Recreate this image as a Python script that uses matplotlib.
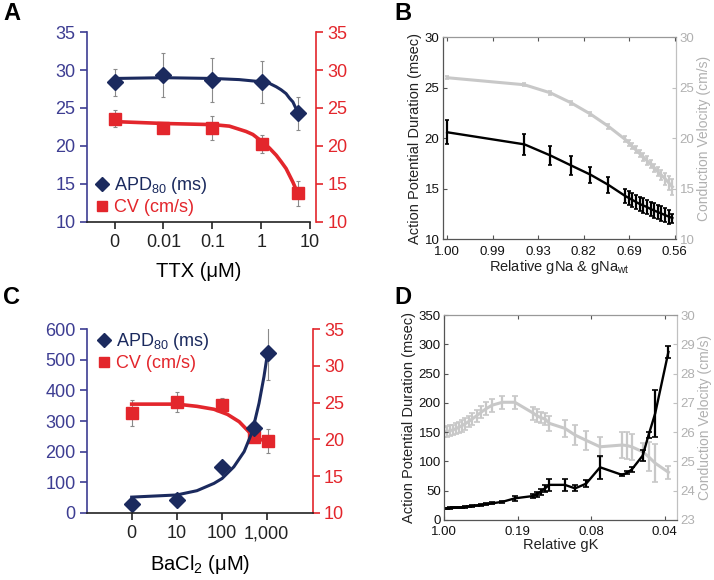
import matplotlib
matplotlib.use('Agg')
import matplotlib.pyplot as plt
from matplotlib.lines import Line2D

plt.rcParams['font.family'] = ['Liberation Sans', 'DejaVu Sans']
plt.rcParams['mathtext.fontset'] = 'custom'
plt.rcParams['mathtext.rm'] = 'Liberation Sans'
plt.rcParams['mathtext.it'] = 'Liberation Sans:italic'

NAVY = '#1b2a5e'
AXBLUE = '#3d3d92'
RED = '#e3262c'
ERR = '#8a8a8a'
GREY = '#c8c8c8'
RGREY = '#b0b0b0'

# ---------------- Panel A data (TTX) ----------------
a_ticks = ['0', '0.01', '0.1', '1', '10']
a_x = [0, 1, 2, 3.02, 3.75]
a_apd = [28.4, 29.4, 28.7, 28.4, 24.3]
a_apd_err = [1.8, 2.9, 2.85, 2.75, 2.2]
a_cv = [23.6, 22.3, 22.4, 20.2, 13.7]
a_cv_err = [1.1, 0.3, 1.6, 1.2, 1.65]
a_apd_fit_x = [0, 1.02, 2.02, 2.55, 3.03, 3.17, 3.31, 3.41, 3.51, 3.58, 3.65, 3.75]
a_apd_fit = [28.9, 29.0, 28.9, 28.75, 28.45, 28.25, 27.8, 27.4, 26.9, 26.3, 25.8, 24.4]
a_cv_fit_x = [0, 1.02, 2.02, 2.35, 2.69, 2.83, 3.03, 3.17, 3.31, 3.41, 3.51, 3.58, 3.65, 3.75]
a_cv_fit = [23.2, 22.95, 22.8, 22.6, 21.9, 21.5, 20.5, 19.7, 18.75, 17.9, 17.0, 16.1, 15.2, 13.7]

# ---------------- Panel C data (BaCl2) ----------------
c_ticks = ['0', '10', '100', '1,000']
c_x = [0, 1, 2, 2.72, 3.02]
c_apd = [28, 41, 151, 278, 522]
c_apd_err = [4, 4, 4, 4, 87]
c_cv = [23.6, 25.1, 24.7, 20.3, 19.8]
c_cv_err = [1.8, 1.35, 0.9, 0.3, 1.6]
c_apd_fit_x = [0, 1.0, 1.45, 1.83, 2.01, 2.27, 2.50, 2.68, 2.83, 2.94, 3.02]
c_apd_fit = [51, 58, 72, 96, 112, 150, 200, 265, 358, 445, 522]
c_cv_fit_x = [0, 1.0, 1.45, 1.83, 2.13, 2.39, 2.61, 2.80, 2.91]
c_cv_fit = [24.8, 24.8, 24.5, 24.1, 23.4, 22.4, 21.0, 20.1, 19.9]

# ---------------- Panel B data (gNa) ----------------
b_ticks = ['1.00', '0.99', '0.93', '0.82', '0.69', '0.56']
b_x = [0, 1.70, 2.27, 2.73, 3.15, 3.54, 3.91, 3.99, 4.07, 4.15, 4.23, 4.31,
       4.39, 4.47, 4.55, 4.63, 4.71, 4.79, 4.87, 4.95]
b_apd = [20.6, 19.4, 18.3, 17.3, 16.4, 15.4, 14.3, 14.1, 13.9, 13.7, 13.5, 13.35,
         13.2, 13.0, 12.85, 12.7, 12.55, 12.4, 12.25, 12.1]
b_apd_err = [1.2, 1.05, 0.95, 0.9, 0.8, 0.8, 0.7, 0.7, 0.7, 0.7, 0.7, 0.7,
             0.7, 0.7, 0.7, 0.7, 0.7, 0.7, 0.7, 0.45]
b_cv = [26.0, 25.3, 24.5, 23.5, 22.4, 21.2, 19.9, 19.55, 19.2, 18.85, 18.5, 18.15,
        17.8, 17.45, 17.1, 16.7, 16.35, 16.0, 15.6, 15.2]
b_cv_err = [0.12, 0.15, 0.2, 0.2, 0.2, 0.25, 0.3, 0.3, 0.3, 0.35, 0.35, 0.35,
            0.4, 0.4, 0.4, 0.45, 0.5, 0.6, 0.7, 0.8]

# ---------------- Panel D data (gK) ----------------
d_ticks = ['1.00', '0.19', '0.08', '0.04']
d_x = [0.00, 0.04, 0.08, 0.12, 0.16, 0.20, 0.24, 0.28, 0.33, 0.38, 0.44, 0.50,
       0.57, 0.65, 0.79, 0.96, 1.21, 1.26, 1.31, 1.37, 1.43, 1.64, 1.78, 1.93,
       2.12, 2.42, 2.49, 2.55, 2.70, 2.78, 2.87, 3.05]
d_apd = [20, 20.2, 20.4, 20.7, 21, 21.4, 21.8, 22.3, 23, 23.8, 24.7, 25.8,
         27, 28.5, 31, 37, 41, 44, 48, 54, 60, 60, 54, 62,
         90, 77, 81, 86, 110, 145, 182, 287]
d_apd_err = [1, 1, 1, 1, 1, 1, 1, 1, 1, 1, 1.5, 1.5,
             1.5, 2, 2, 4, 4, 4, 5, 6, 10, 10, 5, 6,
             20, 2, 3, 4, 10, 5, 40, 10]
d_cv = [26.0, 26.02, 26.05, 26.08, 26.12, 26.17, 26.22, 26.28, 26.36, 26.45, 26.56, 26.68,
        26.8, 26.92, 27.02, 27.02, 26.65, 26.56, 26.5, 26.45, 26.3, 26.13, 25.9, 25.72,
        25.5, 25.56, 25.54, 25.5, 25.33, 25.16, 24.94, 24.63]
d_cv_err = [0.18, 0.18, 0.18, 0.18, 0.19, 0.19, 0.2, 0.2, 0.2, 0.2, 0.21, 0.21,
            0.22, 0.22, 0.22, 0.22, 0.22, 0.22, 0.2, 0.22, 0.25, 0.3, 0.35, 0.33,
            0.35, 0.45, 0.45, 0.45, 0.3, 0.5, 0.65, 0.22]

W, H = 714, 580
fig = plt.figure(figsize=(W / 100, H / 100), dpi=100)


def box(l, t, r, b):
    return [l / W, 1 - b / H, (r - l) / W, (b - t) / H]


def style_ac(ax, ax2, ticks, xlim, ylim_l, yt_l, ylim_r, yt_r, xlabel):
    fs = 13
    ax.set_xlim(*xlim)
    ax.set_ylim(*ylim_l)
    ax.set_yticks(yt_l)
    ax.set_xticks(range(len(ticks)))
    ax.set_xticklabels(ticks)
    ax2.set_ylim(*ylim_r)
    ax2.set_yticks(yt_r)
    for s in ['top', 'right']:
        ax.spines[s].set_visible(False)
    for s in ['top', 'left', 'bottom']:
        ax2.spines[s].set_visible(False)
    ax.spines['left'].set_color(AXBLUE)
    ax.spines['left'].set_linewidth(1.2)
    ax.spines['bottom'].set_color('#222222')
    ax.spines['bottom'].set_linewidth(1.2)
    ax2.spines['right'].set_color(RED)
    ax2.spines['right'].set_linewidth(1.2)
    ax.tick_params(axis='y', colors=AXBLUE, labelsize=fs, length=5, width=1.2, pad=3)
    ax.tick_params(axis='x', colors='#222222', labelsize=fs, length=5, width=1.2, pad=4)
    ax2.tick_params(axis='y', colors=RED, labelsize=fs, length=5, width=1.2, pad=3)
    ax.set_xlabel(xlabel, fontsize=fs + 1.5, labelpad=8)


# ---------------- Panel A ----------------
axA = fig.add_axes(box(86.7, 32.3, 310, 221.5))
axA2 = axA.twinx()
style_ac(axA, axA2, a_ticks, (-0.57, 4.0), (10, 35), range(10, 36, 5),
         (10, 35), range(10, 36, 5), 'TTX (μM)')
axA2.spines['right'].set_position(('outward', 4.5))
axA.errorbar(a_x, a_apd, yerr=a_apd_err, fmt='none', ecolor=ERR, elinewidth=0.8,
             capsize=1.5, capthick=0.8)
axA.plot(a_apd_fit_x, a_apd_fit, color=NAVY, lw=2.2)
axA.plot(a_x, a_apd, 'D', color=NAVY, ms=8)
axA2.errorbar(a_x, a_cv, yerr=a_cv_err, fmt='none', ecolor=ERR, elinewidth=0.8,
              capsize=1.5, capthick=0.8)
axA2.plot(a_cv_fit_x, a_cv_fit, color=RED, lw=2.6)
axA2.plot(a_x, a_cv, 's', color=RED, ms=8)

handles = [Line2D([], [], marker='D', color=NAVY, ls='none', ms=7),
           Line2D([], [], marker='s', color=RED, ls='none', ms=7)]
labels = ['APD$_{80}$ (ms)', 'CV (cm/s)']
axA2.legend(handles, labels, loc='lower left', bbox_to_anchor=(0.04, 0.03),
            frameon=False, fontsize=13, labelcolor=[NAVY, RED], handlelength=0.7,
            handletextpad=0.3, labelspacing=0.15, borderpad=0, borderaxespad=0)

# ---------------- Panel C ----------------
axC = fig.add_axes(box(86.7, 329.3, 313, 512.7))
axC2 = axC.twinx()
style_ac(axC, axC2, c_ticks, (-1.0, 4.03), (0, 600), range(0, 601, 100),
         (10, 35), range(10, 36, 5), 'BaCl$_2$ (μM)')
axC.errorbar(c_x, c_apd, yerr=c_apd_err, fmt='none', ecolor=ERR, elinewidth=0.8,
             capsize=1.5, capthick=0.8)
axC2.errorbar(c_x, c_cv, yerr=c_cv_err, fmt='none', ecolor=ERR, elinewidth=0.8,
              capsize=1.5, capthick=0.8)
axC2.plot(c_cv_fit_x, c_cv_fit, color=RED, lw=2.6)
axC2.plot(c_x, c_cv, 's', color=RED, ms=8)
axC.set_zorder(axC2.get_zorder() + 1)
axC.patch.set_visible(False)
axC.plot(c_apd_fit_x, c_apd_fit, color=NAVY, lw=2.2)
axC.plot(c_x, c_apd, 'D', color=NAVY, ms=8)
axC.legend(handles, labels, loc='upper left', bbox_to_anchor=(0.05, 0.99),
           frameon=False, fontsize=13, labelcolor=[NAVY, RED], handlelength=0.7,
           handletextpad=0.3, labelspacing=0.15, borderpad=0, borderaxespad=0)


# ---------------- Panel B/D styling ----------------
def style_bd(ax, ax2, ticks, xlim, ylim_l, yt_l, ylim_r, yt_r, xlabel):
    fs = 9.5
    ax.set_xlim(*xlim)
    ax.set_ylim(*ylim_l)
    ax.set_yticks(yt_l)
    ax.set_xticks(range(len(ticks)))
    ax.set_xticklabels(ticks)
    ax2.set_ylim(*ylim_r)
    ax2.set_yticks(yt_r)
    for s in ['left', 'bottom']:
        ax.spines[s].set_color('#555555')
        ax.spines[s].set_linewidth(0.9)
    ax.spines['top'].set_color('#999999')
    ax.spines['top'].set_linewidth(0.9)
    ax.spines['right'].set_visible(False)
    for s in ['top', 'left', 'bottom']:
        ax2.spines[s].set_visible(False)
    ax2.spines['right'].set_color('#c0c0c0')
    ax2.spines['right'].set_linewidth(0.9)
    ax.tick_params(axis='y', direction='in', length=3, width=0.8, labelsize=fs,
                   colors='#555555', labelcolor='#111111', pad=2.5)
    ax.tick_params(axis='x', direction='in', length=3, width=0.8, labelsize=fs,
                   colors='#555555', labelcolor='#111111', top=True, pad=4.5)
    ax2.tick_params(axis='y', direction='in', length=3, width=0.8, labelsize=fs,
                    colors='#c0c0c0', labelcolor=RGREY, pad=2.5)
    ax.set_xlabel(xlabel, fontsize=10.5, labelpad=0, color='#222222')
    ax.set_ylabel('Action Potential Duration (msec)', fontsize=10.5, labelpad=2,
                  color='#222222')
    ax2.set_ylabel('Conduction Velocity (cm/s)', fontsize=10, labelpad=2,
                   color=RGREY)
    ax.set_zorder(ax2.get_zorder() + 1)
    ax.patch.set_visible(False)


# ---------------- Panel B ----------------
axB = fig.add_axes(box(443, 37.3, 676, 239.3))
axB2 = axB.twinx()
style_bd(axB, axB2, b_ticks, (-0.09, 5.03), (10, 30), range(10, 31, 5),
         (10, 30), range(10, 31, 5), 'Relative gNa & gNa$_{\\mathrm{wt}}$')
axB2.errorbar(b_x, b_cv, yerr=b_cv_err, color=GREY, lw=2.2, elinewidth=1.6,
              capsize=1.5, capthick=1.2)
axB.errorbar(b_x, b_apd, yerr=b_apd_err, color='black', lw=1.7, elinewidth=1.6,
             capsize=1.5, capthick=1.2)

# ---------------- Panel D ----------------
axD = fig.add_axes(box(444.3, 315, 676.5, 520))
axD2 = axD.twinx()
style_bd(axD, axD2, d_ticks, (0, 3.16), (0, 350), range(0, 351, 50),
         (23, 30), range(23, 31, 1), 'Relative gK')
axD2.errorbar(d_x, d_cv, yerr=d_cv_err, color=GREY, lw=2.2, elinewidth=1.6,
              capsize=2, capthick=1.2)
axD.errorbar(d_x, d_apd, yerr=d_apd_err, color='black', lw=1.7, elinewidth=1.6,
             capsize=2, capthick=1.2)

# ---------------- Panel letters ----------------
for lab, (px, py) in {'A': (12, 14), 'B': (403, 14), 'C': (12, 298), 'D': (403, 297)}.items():
    fig.text(px / W, 1 - py / H, lab, fontsize=17, fontweight='bold',
             ha='center', va='center')

fig.savefig('out.png', dpi=100)
